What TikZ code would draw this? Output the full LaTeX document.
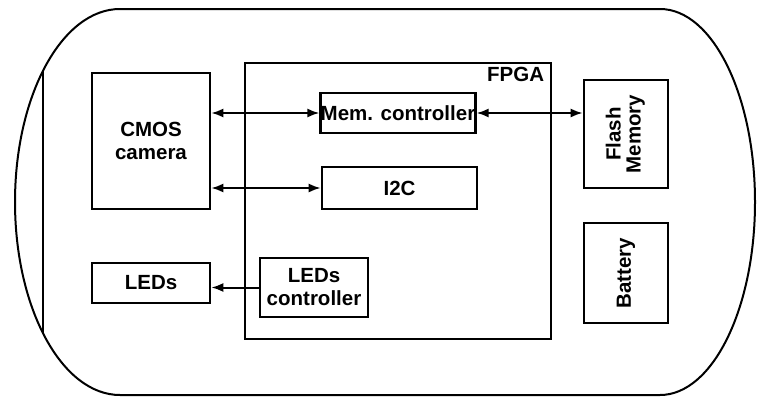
\documentclass[tikz,border=0pt]{standalone}
\usepackage{fontspec}
\setmainfont{Liberation Sans}
\usetikzlibrary{arrows.meta}
\begin{document}
\begin{tikzpicture}[x=1pt,y=-1pt,
  lbl/.style={font=\fontsize{20.5}{23}\selectfont\bfseries},
  blk/.style={draw,line width=2.6pt,inner sep=0pt,align=center,lbl},
  tip/.style={},
  conn/.style={line width=2pt,{Latex[length=12pt,width=9pt]}-{Latex[length=12pt,width=9pt]}},
  conn1/.style={line width=2pt,-{Latex[length=12pt,width=9pt]}},
  outer/.style={line width=2pt}]
\useasboundingbox (0,0) rectangle (757,399);
% outer enclosure
\draw[outer] (120,9) -- (660,9)
  .. controls (712.5,9) and (755,95.4) .. (755,202)
  .. controls (755,308.6) and (712.5,395) .. (660,395)
  -- (120,395)
  .. controls (62,395) and (15,308.6) .. (15,202)
  .. controls (15,95.4) and (62,9) .. (120,9) -- cycle;
\coordinate (vt) at (43,70);
\coordinate (vb) at (43,334);
\draw[outer] (vt) -- (vb);
% blocks
\node[blk,minimum width=118,minimum height=136] (cmos) at (151,141) {CMOS\\camera};
\node[blk,minimum width=118,minimum height=40] (leds) at (151,283) {LEDs};
\node[draw,line width=2.6pt,minimum width=306,minimum height=276,inner sep=0pt] (fpga) at (398,201) {};
\node[lbl,anchor=north east,inner sep=0pt] (fpgal) at ([xshift=-8pt,yshift=-5pt]fpga.north east) {FPGA};
\node[blk,minimum width=154,minimum height=40] (mem) at (398,113) {Mem. controller};
\node[blk,minimum width=155,minimum height=42] (i2c) at (399.5,188) {I2C};
\node[blk,minimum width=108,minimum height=59] (ledc) at (314,287.5) {LEDs\\controller};
\node[blk,minimum width=84,minimum height=108] (flash) at (626,134) {\rotatebox{90}{\begin{tabular}{@{}c@{}}Flash\\[-3pt]Memory\end{tabular}}};
\node[blk,minimum width=84,minimum height=100] (batt) at (626,273) {\rotatebox{90}{Battery}};
% connectors
\draw[conn] (mem.west -| cmos.east) -- (mem.west);
\draw[conn] (i2c.west -| cmos.east) -- (i2c.west);
\draw[conn] (mem.east) -- (mem.east -| flash.west);
\draw[conn1] (ledc.west) -- (ledc.west -| leds.east);
\end{tikzpicture}
\end{document}
